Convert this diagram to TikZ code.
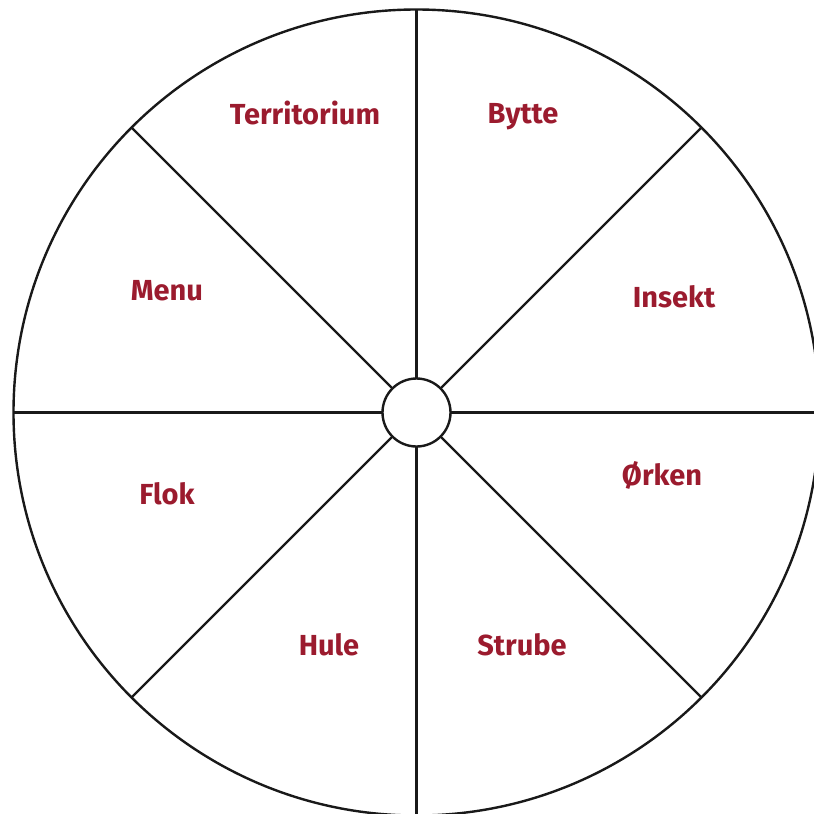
\documentclass[tikz,border=0pt]{standalone}
\usepackage{fontspec}
\setmainfont{Fira Sans}
\usetikzlibrary{calc}
\definecolor{lbl}{HTML}{9B1B2E}
\begin{document}
\begin{tikzpicture}[x=1pt,y=-1pt,
  lab/.style={text=lbl,font=\fontsize{29}{34}\selectfont\bfseries,anchor=base,inner sep=0},
  ln/.style={draw=black!90,line width=2.4pt}]
\useasboundingbox (0,0) rectangle (814,814);
\clip (0,0) rectangle (814,814);
\coordinate (c) at (416.5,412.5);
\foreach \a in {0,45,...,315}{
  \draw[ln] ($(c)+(\a:34)$) -- ($(c)+(\a:403)$);
}
\draw[ln] (c) circle[radius=403];
\node[ln,circle,minimum size=68,inner sep=0,fill=white] (hub) at (c) {};
\node[lab] (t1) at (305,124) {Territorium};
\node[lab] (t2) at (523,123.5) {Bytte};
\node[lab] (t3) at (167,300) {Menu};
\node[lab] (t4) at (674,307) {Insekt};
\node[lab] (t5) at (167,504) {Flok};
\node[lab] (t6) at (662,485) {Ørken};
\node[lab] (t7) at (329,655.5) {Hule};
\node[lab] (t8) at (522,655) {Strube};
\end{tikzpicture}
\end{document}
